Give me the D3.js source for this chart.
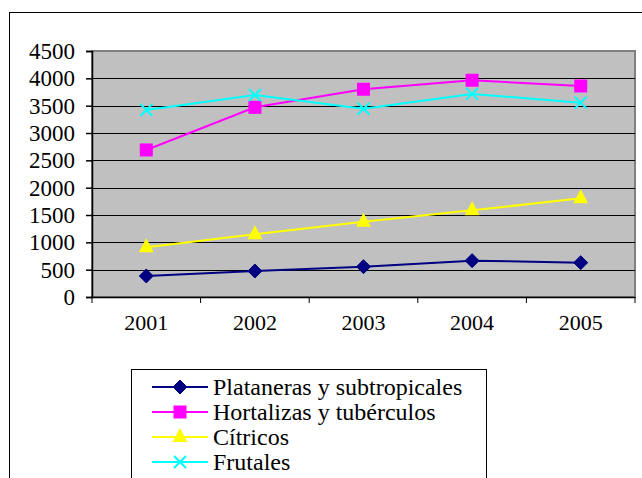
<!DOCTYPE html>
<html>
<head>
<meta charset="utf-8">
<script src="https://cdn.jsdelivr.net/npm/d3@7"></script>
<style>
  body { margin: 0; background: #fff; }
</style>
</head>
<body>
<svg id="chart" width="642" height="478"></svg>
<script>
const years = ["2001", "2002", "2003", "2004", "2005"];
const seriesNames = ["Plataneras y subtropicales", "Hortalizas y tubérculos", "Cítricos", "Frutales"];
const platanerasValues = [385, 475, 555, 665, 628];
const hortalizasValues = [2690, 3470, 3800, 3965, 3860];
const citricosValues = [910, 1150, 1375, 1585, 1805];
const frutalesValues = [3420, 3695, 3445, 3715, 3555];
const yTicks = [0, 500, 1000, 1500, 2000, 2500, 3000, 3500, 4000, 4500];

const serif = "'Liberation Serif', 'Times New Roman', 'DejaVu Serif', serif";

const series = [
    { name: seriesNames[0], values: platanerasValues, color: "#000080", marker: "diamond" },
    { name: seriesNames[1], values: hortalizasValues, color: "#ff00ff", marker: "square" },
    { name: seriesNames[2], values: citricosValues, color: "#ffff00", marker: "triangle" },
    { name: seriesNames[3], values: frutalesValues, color: "#00ffff", marker: "cross" }
];

const svg = d3.select("#chart").attr("font-family", serif);
const plot = { left: 92, right: 635, top: 51, bottom: 297 };

// outer chart frame (runs off the right and bottom edges)
svg.append("rect")
    .attr("x", 9.5).attr("y", 12.5)
    .attr("width", 700).attr("height", 600)
    .attr("fill", "#fff").attr("stroke", "#000").attr("stroke-width", 1);

const x = d3.scaleBand().domain(years).range([plot.left, plot.right]);
const y = d3.scaleLinear().domain([0, 4500]).range([plot.bottom, plot.top]);

// plot area
svg.append("rect")
    .attr("x", plot.left).attr("y", plot.top)
    .attr("width", plot.right - plot.left).attr("height", plot.bottom - plot.top)
    .attr("fill", "#c0c0c0").attr("stroke", "#808080").attr("stroke-width", 2);

// gridlines
svg.append("g").selectAll("line")
    .data(yTicks.filter(d => d > 0 && d < 4500))
    .enter().append("line")
    .attr("x1", plot.left).attr("x2", plot.right)
    .attr("y1", d => Math.round(y(d)) + 0.5).attr("y2", d => Math.round(y(d)) + 0.5)
    .attr("stroke", "#000").attr("stroke-width", 1);

// y axis
const yAxis = svg.append("g")
    .attr("transform", `translate(${plot.left},0)`)
    .call(d3.axisLeft(y).tickValues(yTicks).tickSize(6).tickPadding(11).tickFormat(d3.format("d")));
yAxis.attr("font-family", serif).attr("font-size", 23);
yAxis.selectAll("text").attr("fill", "#000");
yAxis.selectAll("line, path").attr("stroke", "#000").attr("stroke-width", 1.5);

// x axis
const xAxis = svg.append("g")
    .attr("transform", `translate(0,${plot.bottom})`)
    .call(d3.axisBottom(x).tickSize(0).tickPadding(17));
xAxis.attr("font-family", serif).attr("font-size", 22);
xAxis.select(".domain").attr("stroke", "#000").attr("stroke-width", 1.5);
xAxis.selectAll("text").attr("fill", "#000");
svg.append("g").selectAll("line")
    .data(years.map(d => x(d)).concat([plot.right]))
    .enter().append("line")
    .attr("x1", d => d).attr("x2", d => d)
    .attr("y1", plot.bottom).attr("y2", plot.bottom + 6)
    .attr("stroke", "#000").attr("stroke-width", 1);

const cx = i => x(years[i]) + x.bandwidth() / 2;

function drawMarker(g, type, color, px, py) {
    if (type === "diamond") {
        g.append("path").attr("d", `M${px},${py - 7}L${px + 7},${py}L${px},${py + 7}L${px - 7},${py}Z`)
            .attr("fill", color).attr("stroke", color);
    } else if (type === "square") {
        g.append("rect").attr("x", px - 6.5).attr("y", py - 6.5).attr("width", 13).attr("height", 13)
            .attr("fill", color);
    } else if (type === "triangle") {
        g.append("path").attr("d", `M${px},${py - 9}L${px + 7.5},${py + 5}L${px - 7.5},${py + 5}Z`)
            .attr("fill", color);
    } else {
        g.append("path").attr("d", `M${px - 6},${py - 6}L${px + 6},${py + 6}M${px + 6},${py - 6}L${px - 6},${py + 6}`)
            .attr("stroke", color).attr("stroke-width", 2).attr("fill", "none");
    }
}

const line = d3.line().x((d, i) => cx(i)).y(d => y(d));
series.forEach(s => {
    const g = svg.append("g");
    g.append("path").datum(s.values)
        .attr("d", line).attr("fill", "none")
        .attr("stroke", s.color).attr("stroke-width", 2);
    s.values.forEach((v, i) => drawMarker(g, s.marker, s.color, cx(i), y(v)));
});

// legend
const legend = svg.append("g");
legend.append("rect")
    .attr("x", 131.5).attr("y", 369.5).attr("width", 355).attr("height", 140)
    .attr("fill", "#fff").attr("stroke", "#000").attr("stroke-width", 1);
series.forEach((s, i) => {
    const ly = 387 + i * 25;
    const g = legend.append("g");
    g.append("line").attr("x1", 152).attr("x2", 208).attr("y1", ly).attr("y2", ly)
        .attr("stroke", s.color).attr("stroke-width", 2);
    drawMarker(g, s.marker, s.color, 180, ly);
    g.append("text").attr("x", 213).attr("y", ly + 8)
        .attr("font-size", 24)
        .attr("fill", "#000").text(s.name);
});
</script>
</body>
</html>
